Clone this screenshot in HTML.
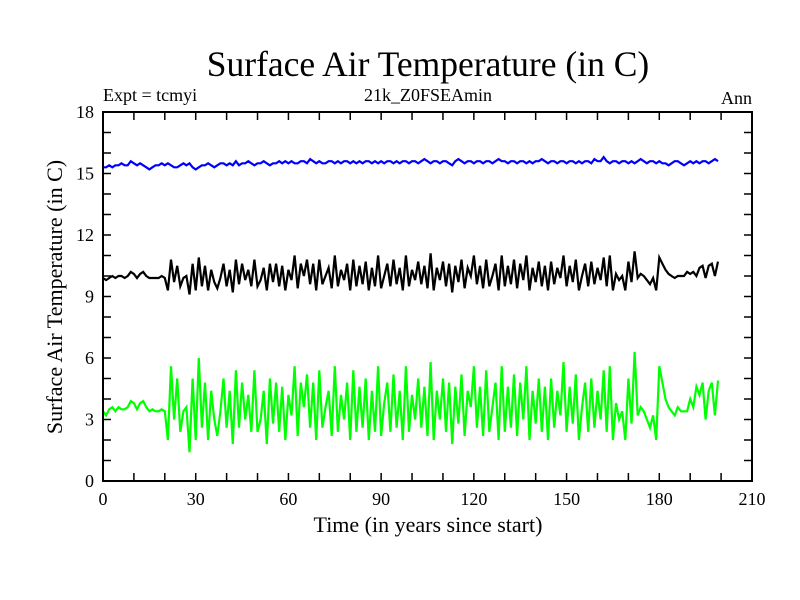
<!DOCTYPE html>
<html><head><meta charset="utf-8"><style>
body{margin:0;background:#fff}
svg{display:block;font-family:"Liberation Serif",serif}
</style></head><body>
<svg width="800" height="600" id="c">
<text x="428" y="76" font-size="35.5" text-anchor="middle">Surface Air Temperature (in C)</text>
<text x="103" y="101" font-size="18">Expt = tcmyi</text>
<text x="428" y="101" font-size="18" text-anchor="middle">21k_Z0FSEAmin</text>
<text x="752" y="104" font-size="18" text-anchor="end">Ann</text>
<text x="428" y="532" font-size="22" text-anchor="middle">Time (in years since start)</text>
<text transform="translate(62,297) rotate(-90)" font-size="22" text-anchor="middle">Surface Air Temperature (in C)</text>
<g id="ticks"></g>
<g id="series"></g>
<rect x="103" y="112" width="649" height="369" fill="none" stroke="#000" stroke-width="2"/>
</svg>
<script>
const xTicks=[0,30,60,90,120,150,180,210];
const yTicks=[0,3,6,9,12,15,18];
const green=[3.4,3.2,3.5,3.6,3.4,3.6,3.5,3.5,3.6,3.9,
3.8,3.5,3.8,3.9,3.6,3.4,3.5,3.4,3.4,3.5,
3.4,2.0,5.6,3.0,5.0,2.4,3.4,3.6,1.4,5.0,
2.0,6.0,2.6,4.8,2.0,4.4,3.0,2.2,3.4,5.0,
2.6,4.4,1.8,5.4,2.6,4.8,3.0,4.2,2.4,5.4,
2.4,3.0,4.4,1.8,5.0,2.8,4.8,2.4,4.6,2.0,
4.2,3.2,5.6,2.2,4.8,3.6,5.2,2.6,4.8,2.0,
5.4,2.6,3.6,4.4,2.2,5.6,2.4,4.2,3.0,4.8,
2.0,5.4,2.4,4.6,2.6,5.0,2.0,4.4,2.4,5.6,
2.2,3.8,4.8,2.4,5.2,2.6,4.4,2.0,5.6,2.4,
4.2,3.0,5.0,2.6,4.6,2.2,5.8,2.0,4.4,3.0,
5.0,2.4,4.8,1.8,4.6,2.8,5.2,2.2,4.4,3.6,
5.6,2.6,4.6,2.2,5.4,2.4,3.6,4.8,2.0,5.6,
2.4,4.6,2.6,5.2,2.2,4.8,3.0,5.6,2.0,4.4,
2.8,5.0,2.4,4.6,2.0,5.0,2.6,4.4,3.2,5.8,
2.4,4.6,2.8,5.2,2.0,3.6,4.8,2.4,5.0,2.6,
4.4,3.0,5.4,2.4,5.6,2.0,3.8,3.0,3.4,2.0,
5.0,2.8,6.3,3.2,3.6,3.4,3.0,2.6,3.2,2.0,
5.6,4.8,4.0,3.6,3.4,3.2,3.6,3.4,3.4,3.4,
4.0,3.6,4.6,4.2,4.8,3.0,4.4,4.8,3.2,4.9];
const black=[9.9,9.8,9.9,10.0,9.9,10.0,10.0,9.9,10.0,10.2,
10.1,9.9,10.1,10.2,10.0,9.9,9.9,9.9,9.9,10.0,
9.9,9.3,10.8,9.7,10.5,9.5,9.9,10.0,9.1,10.6,
9.3,10.9,9.5,10.5,9.3,10.3,9.7,9.4,9.9,10.6,
9.5,10.3,9.2,10.8,9.6,10.6,9.8,10.3,9.5,10.8,
9.5,9.8,10.4,9.3,10.6,9.7,10.6,9.5,10.5,9.3,
10.3,9.8,11.0,9.4,10.6,10.0,10.8,9.6,10.6,9.3,
10.8,9.6,10.0,10.4,9.4,11.0,9.5,10.3,9.8,10.6,
9.3,10.8,9.5,10.5,9.6,10.7,9.3,10.4,9.5,11.0,
9.4,10.0,10.6,9.5,10.8,9.6,10.4,9.3,11.0,9.5,
10.3,9.8,10.7,9.6,10.5,9.4,11.1,9.3,10.4,9.8,
10.7,9.5,10.6,9.2,10.5,9.7,10.8,9.4,10.4,10.0,
11.0,9.6,10.5,9.4,10.8,9.5,10.0,10.6,9.3,11.0,
9.5,10.5,9.6,10.8,9.4,10.6,9.8,11.0,9.3,10.4,
9.7,10.7,9.5,10.5,9.3,10.7,9.6,10.4,9.9,11.0,
9.5,10.5,9.7,10.8,9.3,10.0,10.6,9.5,10.7,9.6,
10.4,9.8,10.9,9.5,11.0,9.3,10.1,9.8,10.0,9.3,
10.7,9.7,11.2,9.9,10.1,10.0,9.8,9.6,9.9,9.3,
10.9,10.6,10.3,10.1,10.0,9.9,10.0,10.0,10.0,10.2,
10.1,10.2,10.0,10.4,10.5,9.9,10.5,10.6,10.0,10.7];
const blue=[15.3,15.3,15.4,15.3,15.4,15.4,15.5,15.4,15.4,15.6,
15.5,15.4,15.5,15.4,15.3,15.2,15.3,15.4,15.4,15.5,
15.4,15.5,15.4,15.3,15.3,15.4,15.5,15.4,15.5,15.3,
15.2,15.3,15.4,15.4,15.5,15.4,15.3,15.4,15.5,15.5,
15.4,15.5,15.4,15.6,15.4,15.5,15.5,15.6,15.5,15.4,
15.5,15.5,15.6,15.5,15.4,15.5,15.5,15.6,15.5,15.6,
15.5,15.6,15.5,15.5,15.6,15.6,15.5,15.7,15.6,15.5,
15.6,15.5,15.5,15.6,15.6,15.5,15.6,15.5,15.6,15.6,
15.5,15.6,15.5,15.6,15.5,15.6,15.6,15.5,15.6,15.5,
15.6,15.5,15.6,15.6,15.5,15.6,15.5,15.6,15.6,15.5,
15.6,15.6,15.5,15.6,15.7,15.6,15.5,15.6,15.6,15.5,
15.6,15.6,15.5,15.4,15.6,15.7,15.6,15.5,15.6,15.6,
15.5,15.6,15.6,15.5,15.6,15.6,15.5,15.6,15.7,15.6,
15.6,15.5,15.6,15.6,15.5,15.6,15.6,15.5,15.6,15.5,
15.6,15.6,15.7,15.6,15.5,15.6,15.6,15.5,15.6,15.6,
15.5,15.6,15.6,15.5,15.6,15.5,15.6,15.6,15.5,15.7,
15.6,15.6,15.8,15.6,15.5,15.6,15.6,15.5,15.6,15.6,
15.5,15.6,15.5,15.6,15.7,15.6,15.5,15.6,15.6,15.5,
15.6,15.5,15.5,15.4,15.5,15.6,15.6,15.5,15.4,15.5,
15.6,15.5,15.6,15.5,15.6,15.6,15.5,15.6,15.7,15.6];
const X0=103,X1=752,Y0=481,Y1=112;
const xs=v=>X0+(v/210)*(X1-X0);
const ys=v=>Y0-(v/18)*(Y0-Y1);
const NS='http://www.w3.org/2000/svg';
const tg=document.getElementById('ticks');
function line(x1,y1,x2,y2){const l=document.createElementNS(NS,'line');l.setAttribute('x1',x1);l.setAttribute('y1',y1);l.setAttribute('x2',x2);l.setAttribute('y2',y2);l.setAttribute('stroke','#000');l.setAttribute('stroke-width','1.5');tg.appendChild(l);return l;}
for(let v=0;v<=210;v+=10){
 const a=line(xs(v),Y0,xs(v),Y0-8);
 
 
 const b=line(xs(v),Y1,xs(v),Y1+8);
 
 
}
for(let v=0;v<=18;v+=1){
 const a=line(X0,ys(v),X0+8,ys(v));
 
 
 const b=line(X1,ys(v),X1-8,ys(v));
 
 
}
xTicks.forEach(v=>{const t=document.createElementNS(NS,'text');t.setAttribute('x',xs(v));t.setAttribute('y',505);t.setAttribute('font-size','18');t.setAttribute('text-anchor','middle');t.textContent=v;


tg.appendChild(t);});
yTicks.forEach(v=>{const t=document.createElementNS(NS,'text');t.setAttribute('x',94);t.setAttribute('y',ys(v)+6);t.setAttribute('font-size','18');t.setAttribute('text-anchor','end');t.textContent=v;


tg.appendChild(t);});
const sg=document.getElementById('series');
[[blue,'#0000ff','series-blue'],[black,'#000000','series-black'],[green,'#00ff00','series-green']].forEach(([d,c,n])=>{
 const p=document.createElementNS(NS,'polyline');
 p.setAttribute('points',d.map((v,i)=>xs(i).toFixed(1)+','+ys(v).toFixed(1)).join(' '));
 p.setAttribute('fill','none');p.setAttribute('stroke',c);p.setAttribute('stroke-width','2.2');
 
 
 sg.appendChild(p);
});
</script>
</body></html>
